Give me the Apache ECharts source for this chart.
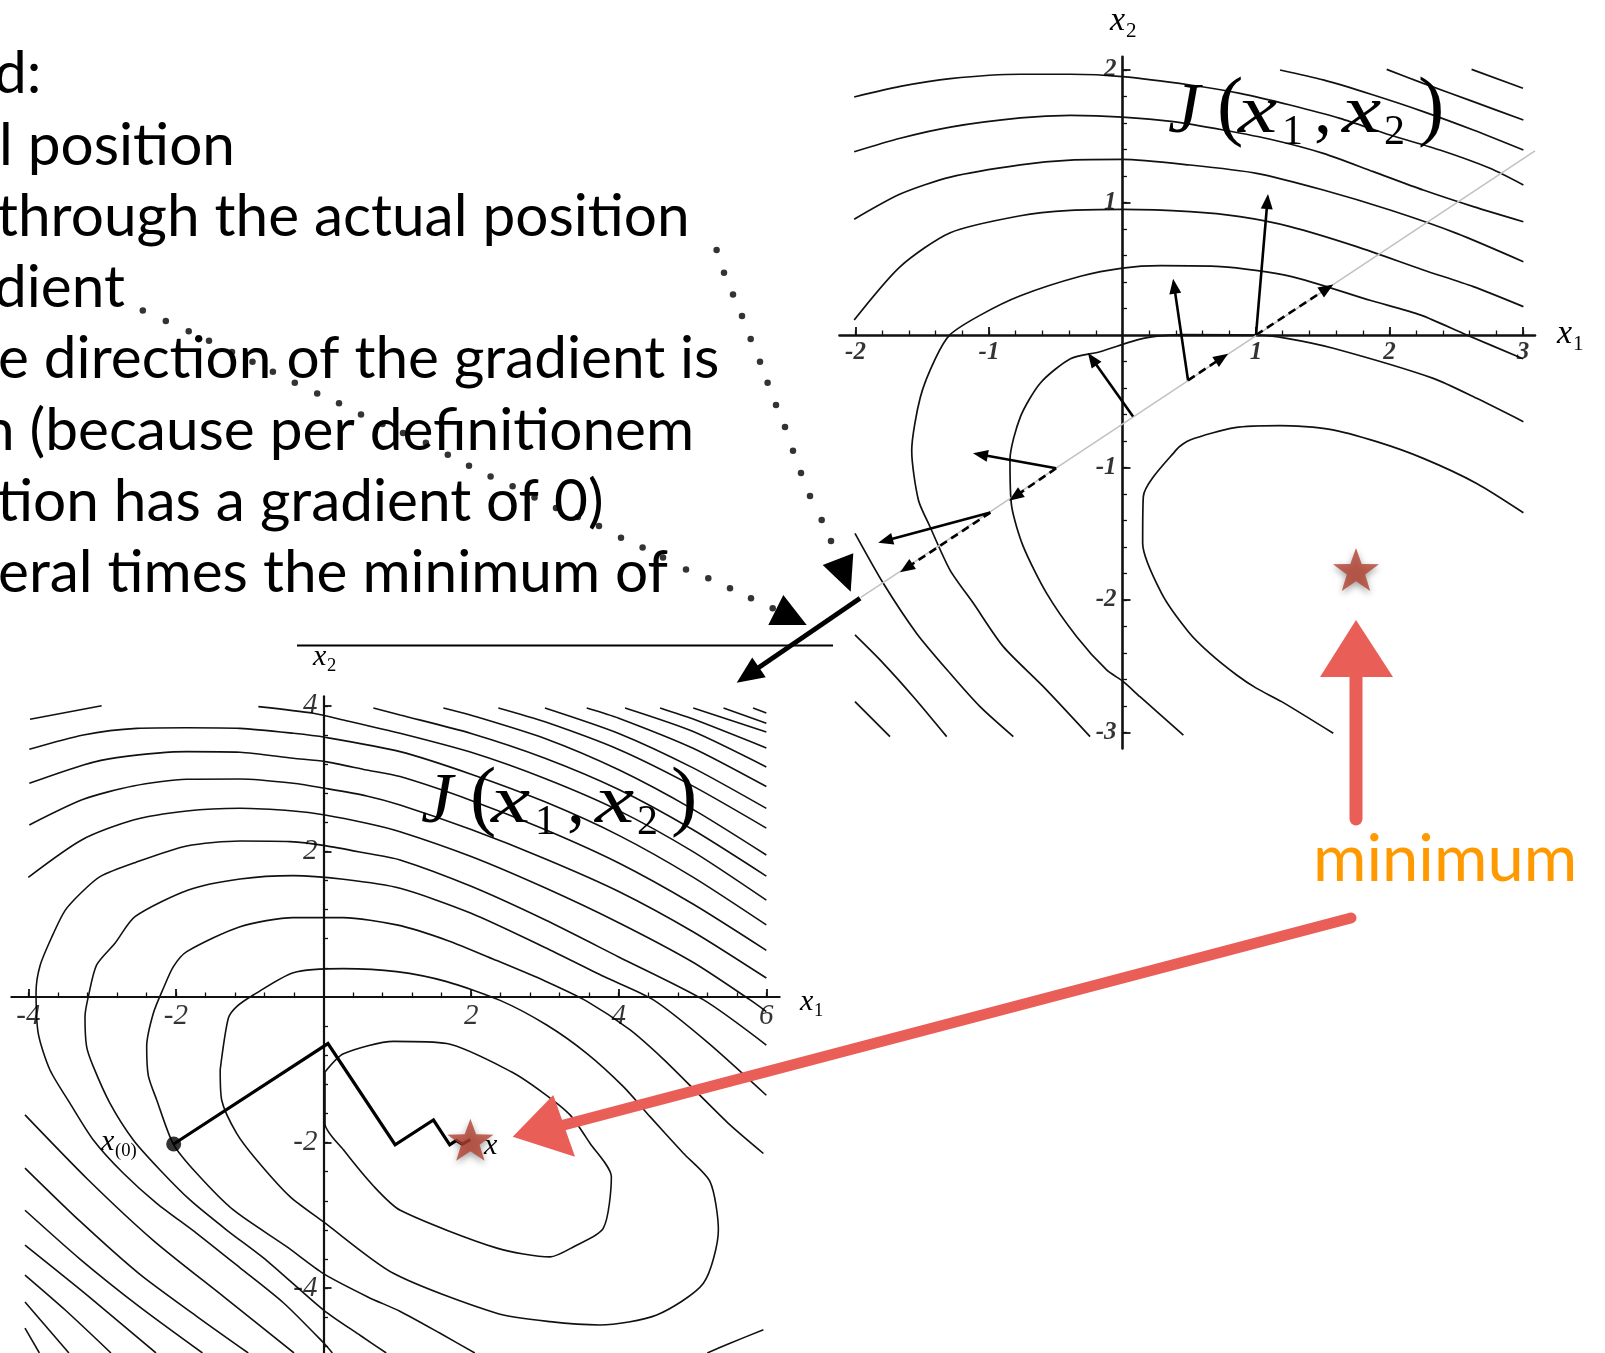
<!DOCTYPE html>
<html>
<head>
<meta charset="utf-8">
<script src="https://cdn.jsdelivr.net/npm/echarts@6/dist/echarts.min.js"></script>
<style>
html,body{margin:0;padding:0;background:#fff;}
#chart{width:1605px;height:1353px;}
</style>
</head>
<body>
<div id="chart"></div>
<script>
// ---------- upper contour plot: J(x1,x2), x1 in [-2,3], x2 in [-3,2] ----------
const topTicksX = [-2, -1, 1, 2, 3];
const topTicksY = [-3, -2, -1, 1, 2];

const topContours = [
  [[2.615,2.005],[3.0,1.862]],
  [[1.979,2.005],[2.253,1.899],[2.628,1.761],[3.003,1.623]],
  [[1.18,2.0],[1.504,1.925],[1.879,1.811],[2.253,1.686],[2.628,1.547],[3.003,1.396]],
  [[-2.01,1.796],[-1.665,1.876],[-1.29,1.935],[-0.765,1.968],[-0.39,1.968],[0,1.95],[0.506,1.887],[0.88,1.824],[1.255,1.736],[1.629,1.635],[2.004,1.509],[2.378,1.396],[2.753,1.258],[3.003,1.132]],
  [[-2.01,1.383],[-1.665,1.485],[-1.29,1.569],[-0.765,1.638],[-0.39,1.657],[0,1.645],[0.381,1.61],[0.755,1.547],[1.13,1.472],[1.504,1.371],[1.879,1.233],[2.253,1.094],[2.628,0.969],[3.003,0.855]],
  [[-2.01,0.874],[-1.665,1.064],[-1.29,1.192],[-0.765,1.284],[-0.39,1.32],[0,1.325],[0.506,1.283],[1.005,1.22],[1.504,1.094],[2.004,0.943],[2.503,0.767],[3.003,0.553]],
  [[-2.01,0.113],[-1.665,0.516],[-1.29,0.772],[-0.765,0.9],[-0.39,0.94],[0,0.948],[0.506,0.931],[0.88,0.893],[1.255,0.818],[1.754,0.667],[2.253,0.491],[2.628,0.365],[3.003,0.214]],
  [[3.0,-0.179],[2.57,0.004],[2.235,0.15],[1.86,0.26],[1.26,0.443],[0.735,0.516],[0.285,0.523],[0,0.505],[-0.315,0.443],[-0.765,0.296],[-1.065,0.15],[-1.29,0.004],[-1.402,-0.179],[-1.515,-0.472],[-1.579,-0.874],[-1.529,-1.245],[-1.442,-1.447],[-1.292,-1.774],[-1.117,-2.025],[-0.893,-2.352],[-0.593,-2.654],[-0.243,-3.031]],
  [[3.003,-0.654],[2.653,-0.478],[2.328,-0.327],[1.579,-0.1],[1.23,-0.025],[1.005,0],[0.456,0.003],[0.156,-0.025],[-0.169,-0.126],[-0.39,-0.179],[-0.615,-0.362],[-0.765,-0.618],[-0.843,-0.943],[-0.83,-1.296],[-0.743,-1.597],[-0.568,-1.95],[-0.343,-2.277],[-0.119,-2.528],[0.006,-2.616],[0.131,-2.73],[0.456,-3.019]],
  [[3.003,-1.341],[2.653,-1.12],[2.253,-0.931],[1.904,-0.805],[1.554,-0.712],[1.18,-0.684],[0.843,-0.699],[0.506,-0.792],[0.406,-0.863],[0.156,-1.22],[0.151,-1.572],[0.293,-1.95],[0.493,-2.239],[0.655,-2.403],[0.855,-2.566],[1.005,-2.667],[1.192,-2.767],[1.579,-3.006]],
  [[-2.004,-1.497],[-1.792,-1.874],[-1.542,-2.252],[-1.292,-2.553],[-1.067,-2.805],[-0.818,-3.031]],
  [[-2.004,-2.264],[-1.792,-2.478],[-1.567,-2.73],[-1.317,-3.031]],
  [[-2.004,-2.767],[-1.742,-3.031]]
];

// line search direction through the current point
const topSearchLine = [[-1.96,-1.98],[3.09,1.39]];
// gradient vectors (solid) and line-search steps (dashed): [from, to]
const topGradients = [
  [[1.0,0.0],[1.09,1.064]],
  [[0.491,-0.342],[0.379,0.424]],
  [[0.079,-0.616],[-0.259,-0.135]],
  [[-0.497,-1.006],[-1.12,-0.892]],
  [[-0.99,-1.34],[-1.83,-1.567]]
];
const topSteps = [
  [[1.0,0.0],[1.579,0.382]],
  [[0.491,-0.342],[0.791,-0.141]],
  [[-0.497,-1.006],[-0.85,-1.25]],
  [[-0.99,-1.34],[-1.666,-1.79]]
];
const topExitArrow = [[[-1.966,-1.987],[-2.89,-2.624]]];
const topMinimum = [[1.749,-1.769]];

// ---------- lower contour plot: x1 in [-4,6], x2 in [-5,4] ----------
const lowTicksX = [-4, -2, 2, 4, 6];
const lowTicksY = [-4, -2, 2, 4];

const lowContours = [
  [[0.02,-1.03],[0.27,-0.78],[0.95,-0.61],[1.67,-0.64],[2.55,-1.03],[2.98,-1.32],[3.34,-1.62],[3.61,-2.01],[3.9,-2.47],[3.79,-3.18],[3.39,-3.43],[3.07,-3.57],[2.35,-3.45],[1.04,-2.93],[0.68,-2.6],[0.27,-2.1],[0.02,-1.74],[0.02,-1.03]],
  [[-1.40,-1.0],[-1.38,-1.415],[-1.177,-1.873],[-0.906,-2.239],[-0.454,-2.743],[0.0,-3.09],[0.946,-3.796],[2.346,-4.345],[3.069,-4.46],[3.746,-4.505],[4.514,-4.368],[5.147,-3.933],[5.35,-3.201],[5.237,-2.537],[4.876,-2.147],[4.424,-1.644],[4.063,-1.232],[3.566,-0.774],[3.024,-0.385],[2.4,-0.05],[1.669,0.211],[0.991,0.348],[0.269,0.39],[-0.409,0.334],[-0.951,0.027],[-1.177,-0.133],[-1.29,-0.293],[-1.40,-1.0]],
  [[5.96,-2.15],[5.5,-1.75],[5.05,-1.3],[4.6,-0.85],[4.15,-0.45],[3.57,-0.06],[3.0,0.22],[2.347,0.5],[1.669,0.78],[0.991,0.99],[0.269,1.09],[-0.409,1.09],[-1.131,0.966],[-1.853,0.623],[-2.034,0.417],[-2.17,0.119],[-2.306,-0.224],[-2.396,-0.682],[-2.374,-1.08],[-2.26,-1.415],[-2.035,-2.02],[-1.719,-2.422],[-1.222,-2.926],[-0.499,-3.43],[0.0,-3.8],[0.6,-4.12],[1.04,-4.32],[1.58,-4.62],[2.05,-4.89]],
  [[5.96,-4.57],[5.5,-4.76],[5.2,-4.89]],
  [[6.0,-1.35],[5.2,-0.62],[4.47,-0.04],[3.8,0.28],[3.0,0.68],[2.0,1.15],[1.037,1.493],[0.269,1.616],[-0.409,1.667],[-1.131,1.621],[-1.831,1.47],[-2.555,1.103],[-2.826,0.737],[-3.074,0.44],[-3.187,0.005],[-3.232,-0.27],[-3.21,-0.682],[-3.119,-0.957],[-2.893,-1.461],[-2.577,-1.964],[-2.215,-2.376],[-1.809,-2.788],[-1.312,-3.201],[-0.77,-3.62],[0.0,-4.3],[0.5,-4.65],[0.85,-4.89]],
  [[6.0,-0.66],[5.15,-0.04],[4.0,0.55],[3.0,1.06],[2.0,1.52],[1.037,1.882],[0.585,1.973],[0.02,2.079],[-0.454,2.134],[-1.131,2.143],[-1.854,2.074],[-2.554,1.845],[-3.028,1.653],[-3.277,1.438],[-3.503,1.186],[-3.683,0.82],[-3.841,0.43],[-3.895,0.064],[-3.864,-0.508],[-3.706,-1.003],[-3.435,-1.461],[-3.119,-1.964],[-2.712,-2.422],[-2.26,-2.834],[-1.719,-3.246],[-1.131,-3.72],[-0.544,-4.2],[0.0,-4.75],[0.12,-4.89]],
  [[6.0,-0.2],[5.78,-0.04],[5.0,0.48],[4.0,1.02],[3.0,1.5],[2.0,1.93],[1.037,2.271],[0.585,2.386],[0.02,2.5],[-0.409,2.555],[-1.131,2.592],[-1.854,2.555],[-2.577,2.431],[-3.277,2.157],[-4.0,1.644]],
  [[-4.045,-1.62],[-3.2,-2.5],[-2.3,-3.35],[-1.35,-4.12],[-0.4,-4.89]],
  [[6.0,0.26],[5.0,0.9],[4.0,1.45],[3.0,1.9],[2.0,2.3],[1.037,2.637],[0.585,2.761],[0.02,2.866],[-0.409,2.935],[-1.131,2.994],[-1.854,2.99],[-2.577,2.898],[-3.254,2.715],[-3.986,2.363]],
  [[-4.045,-2.35],[-3.3,-3.08],[-2.5,-3.8],[-1.7,-4.4],[-1.02,-4.89]],
  [[6.0,0.64],[5.0,1.28],[4.0,1.84],[3.0,2.3],[2.0,2.7],[1.037,3.027],[0.585,3.118],[0.02,3.233],[-0.409,3.278],[-1.131,3.361],[-1.854,3.37],[-2.802,3.288],[-3.254,3.187],[-3.986,2.935]],
  [[-4.045,-2.93],[-3.3,-3.6],[-2.5,-4.25],[-1.64,-4.89]],
  [[6.0,0.99],[5.0,1.65],[4.0,2.22],[3.0,2.68],[2.0,3.06],[1.037,3.37],[0.02,3.567],[-0.409,3.622],[-1.131,3.69],[-1.854,3.699],[-2.531,3.69],[-3.254,3.599],[-3.986,3.402]],
  [[-4.045,-3.41],[-3.2,-4.1],[-2.27,-4.89]],
  [[-3.977,3.814],[-3.006,4.0]],
  [[-0.883,3.988],[-0.138,3.897],[0.269,3.805],[1.037,3.622],[2.0,3.36],[3.0,3.0],[4.0,2.56],[5.0,2.0],[6.0,1.33]],
  [[-4.045,-3.82],[-3.5,-4.3],[-2.88,-4.89]],
  [[0.675,3.97],[1.037,3.874],[2.0,3.62],[3.0,3.28],[4.0,2.85],[5.0,2.3],[6.0,1.66]],
  [[-4.045,-4.19],[-3.45,-4.89]],
  [[1.624,3.97],[2.0,3.87],[3.0,3.55],[4.0,3.12],[5.0,2.58],[6.0,1.95]],
  [[-4.045,-4.55],[-3.85,-4.89]],
  [[2.369,3.97],[3.0,3.78],[4.0,3.4],[5.0,2.9],[6.0,2.32]],
  [[3.0,3.97],[4.0,3.62],[5.0,3.15],[6.0,2.59]],
  [[3.566,3.97],[4.0,3.83],[5.0,3.42],[6.0,2.89]],
  [[4.085,3.97],[5.0,3.65],[6.0,3.16]],
  [[4.56,3.97],[5.0,3.82],[6.0,3.42]],
  [[5.01,3.97],[6.0,3.64]],
  [[5.42,3.97],[6.0,3.76]],
  [[5.82,3.97],[6.0,3.9]]
];

const descentPath = [[-2.03,-2.02],[0.06,-0.64],[0.97,-2.03],[1.49,-1.69],[1.71,-2.03],[1.80,-1.97],[1.88,-2.02],[1.99,-1.96]];
const startPoint = [[-2.03,-2.02]];
const lowMinimum = [[1.99,-1.96]];

// ---------- slide annotations (page coordinates, y downwards) ----------
const bodyLines = [
  'd:',
  'l position',
  'through the actual position',
  'dient',
  'e direction of the gradient is',
  'n (because per definitionem',
  'tion has a gradient of 0)',
  'eral times the minimum of'
];
const leftPointerDots = [[142.8,310.4],[165.8,321],[188.7,331.3],[209,340.8],[232,352],[252.5,361.8],[272.9,371.7],[294.8,382.7],[317.2,393.4],[339,403.3],[361,414.4],[382.5,423.9],[403,433],[425.9,442.8],[447.8,454.7],[469,465.8],[490.6,476.5],[512.6,486.3],[534.5,497.4],[556,508],[577.8,517],[599,526],[621,537.7],[642.6,547.6],[663,557.5],[686,569.4],[708.3,578.3],[730,588.3],[751,598.3],[772.7,608.3]];
const leftPointerHead = [[783.3,595],[768.3,625],[806.7,625]];
const rightPointerDots = [[716.6,249.9],[724,272.8],[733,294.6],[742,316],[750.7,339],[760,361.8],[767.6,382.7],[776,405],[785,427],[793,450.8],[801,473],[810,496],[821.7,520],[831,541]];
const rightPointerHead = [[850.7,591.7],[822.7,565],[853.3,553.3]];
const dividerLine = [[297,645.5],[833,645.5]];
const redUpShaft = [[1356,819],[1356,672]];
const redUpHead = [[1356,620],[1320,677],[1393,677]];
const redLongShaft = [[1351,918],[560,1126]];
const redLongHead = [[512.7,1136.7],[553.3,1095],[575,1156.7]];

// ---------------------------------------------------------------------------
const INK = '#111111';
const RED = '#E95F58';
const STAR = 'path://M0,-50 L11.8,-16.2 L47.6,-15.5 L19,6.2 L29.4,40.5 L0,20 L-29.4,40.5 L-19,6.2 L-47.6,-15.5 L-11.8,-16.2 Z';
const SERIF = 'Liberation Serif';

function steps(min, max, step) {
  const out = [];
  for (let k = Math.ceil(min / step - 1e-9); k * step <= max + 1e-9; k++) {
    const v = Math.round(k * step * 1000) / 1000;
    if (Math.abs(v) > 1e-9) out.push(v);
  }
  return out;
}

function axisPair(dim, grid, min, max, major, minorStep, otherIdx, lw) {
  const pos = dim === 'x' ? 'bottom' : 'left';
  const main = {
    gridIndex: grid, type: 'value', position: pos, min: min, max: max,
    axisLine: { show: true, onZero: true, onZeroAxisIndex: otherIdx, lineStyle: { color: INK, width: lw } },
    axisTick: { show: true, inside: true, length: 8, customValues: major, lineStyle: { color: INK, width: 1.8 } },
    axisLabel: { show: false },
    splitLine: { show: false }
  };
  const minor = {
    gridIndex: grid, type: 'value', position: pos, min: min, max: max,
    axisLine: { show: false, onZero: true, onZeroAxisIndex: otherIdx },
    axisTick: { show: true, inside: true, length: 4.5, customValues: steps(min, max, minorStep), lineStyle: { color: INK, width: 1.3 } },
    axisLabel: { show: false },
    splitLine: { show: false }
  };
  return [main, minor];
}

const [topX, topXm] = axisPair('x', 0, -2.12, 3.09, topTicksX, 0.2, 0, 2.6);
const [topY, topYm] = axisPair('y', 0, -3.12, 2.1, topTicksY, 0.2, 0, 2.6);
const [lowX, lowXm] = axisPair('x', 1, -4.23, 6.18, lowTicksX, 0.4, 2, 2.2);
const [lowY, lowYm] = axisPair('y', 1, -4.9, 4.13, lowTicksY, 0.4, 2, 2.2);

// tick numbers sit next to the zero-crossing axis lines
function tickLabelSeries(xi, yi, vals, dim, size, weight) {
  return {
    type: 'scatter', xAxisIndex: xi, yAxisIndex: yi, silent: true, z: 4,
    symbol: 'circle', symbolSize: 0.1, itemStyle: { color: 'rgba(0,0,0,0)' },
    data: vals.map(v => (dim === 'x' ? [v, 0] : [0, v])),
    label: {
      show: true, position: dim === 'x' ? 'bottom' : 'left', distance: dim === 'x' ? 5 : 6,
      formatter: p => String(dim === 'x' ? p.value[0] : p.value[1]),
      fontFamily: SERIF, fontStyle: 'italic', fontWeight: weight, fontSize: size, color: '#000'
    }
  };
}

function contourSeries(pts, xi, yi, w) {
  return {
    type: 'line', xAxisIndex: xi, yAxisIndex: yi, data: pts,
    symbol: 'none', smooth: 0.25, silent: true, z: 2,
    lineStyle: { color: INK, width: w }
  };
}

function arrowRender(width, headLen, headW, dash) {
  return function (params, api) {
    const a = api.coord([api.value(0), api.value(1)]);
    const b = api.coord([api.value(2), api.value(3)]);
    const dx = b[0] - a[0], dy = b[1] - a[1];
    const L = Math.hypot(dx, dy) || 1;
    const ux = dx / L, uy = dy / L;
    const bx = b[0] - ux * headLen, by = b[1] - uy * headLen;
    const hw = headW / 2;
    return {
      type: 'group',
      children: [
        { type: 'line', shape: { x1: a[0], y1: a[1], x2: bx + ux * 2, y2: by + uy * 2 },
          style: { stroke: '#000', lineWidth: width, lineDash: dash || null } },
        { type: 'polygon', shape: { points: [[b[0], b[1]], [bx - uy * hw, by + ux * hw], [bx + uy * hw, by - ux * hw]] },
          style: { fill: '#000' } }
      ]
    };
  };
}

function arrowSeries(list, xi, yi, render, z) {
  return {
    type: 'custom', xAxisIndex: xi, yAxisIndex: yi, clip: false, silent: true, z: z,
    data: list.map(s => [s[0][0], s[0][1], s[1][0], s[1][1]]),
    encode: { x: [0, 2], y: [1, 3] },
    renderItem: render
  };
}

function triangleSeries(tri, color, z) {
  return {
    type: 'custom', xAxisIndex: 4, yAxisIndex: 4, clip: false, silent: true, z: z,
    data: [[tri[0][0], tri[0][1], tri[1][0], tri[1][1], tri[2][0], tri[2][1]]],
    encode: { x: [0, 2, 4], y: [1, 3, 5] },
    renderItem: function (params, api) {
      const pts = [0, 1, 2].map(i => api.coord([api.value(2 * i), api.value(2 * i + 1)]));
      return { type: 'polygon', shape: { points: pts }, style: { fill: color } };
    }
  };
}

function starSeries(pt, xi, yi, size) {
  return {
    type: 'scatter', xAxisIndex: xi, yAxisIndex: yi, data: pt, silent: true, z: 8,
    symbol: STAR, symbolSize: size,
    itemStyle: { color: '#B3412F', shadowBlur: 7, shadowColor: 'rgba(0,0,0,0.45)', shadowOffsetY: 3 }
  };
}

const series = [];
topContours.forEach(c => series.push(contourSeries(c, 0, 0, 1.7)));
series.push({
  type: 'line', xAxisIndex: 0, yAxisIndex: 0, data: topSearchLine, symbol: 'none', silent: true, z: 3,
  lineStyle: { color: '#c2c2c2', width: 1.6 }
});
series.push(tickLabelSeries(0, 0, topTicksX, 'x', 25, 'bold'));
series.push(tickLabelSeries(0, 0, topTicksY, 'y', 25, 'bold'));
series.push(arrowSeries(topGradients, 0, 0, arrowRender(2.6, 15, 12), 6));
series.push(arrowSeries(topSteps, 0, 0, arrowRender(2.6, 15, 12, [8, 5]), 6));
series.push(arrowSeries(topExitArrow, 0, 0, arrowRender(4.8, 27, 24), 6));
series.push(starSeries(topMinimum, 0, 0, [46, 43]));

lowContours.forEach(c => series.push(contourSeries(c, 2, 2, 1.6)));
series.push(tickLabelSeries(2, 2, lowTicksX, 'x', 29, 'normal'));
series.push(tickLabelSeries(2, 2, lowTicksY, 'y', 29, 'normal'));
series.push({
  type: 'line', xAxisIndex: 2, yAxisIndex: 2, data: descentPath, symbol: 'none', silent: true, z: 6,
  lineStyle: { color: '#000', width: 3.2, join: 'miter' }
});
series.push({
  type: 'scatter', xAxisIndex: 2, yAxisIndex: 2, data: startPoint, symbol: 'circle', symbolSize: 15,
  silent: true, z: 7, itemStyle: { color: '#000' }
});
series.push(starSeries(lowMinimum, 2, 2, [46, 42]));

// page overlay: pointers, divider and red marker arrows
series.push({
  type: 'line', xAxisIndex: 4, yAxisIndex: 4, data: dividerLine, symbol: 'none', silent: true, z: 9,
  lineStyle: { color: '#000', width: 2 }
});
[leftPointerDots, rightPointerDots].forEach(d => series.push({
  type: 'scatter', xAxisIndex: 4, yAxisIndex: 4, data: d, symbol: 'circle', symbolSize: 6.5,
  silent: true, z: 9, itemStyle: { color: '#000' }
}));
series.push(triangleSeries(leftPointerHead, '#000', 9));
series.push(triangleSeries(rightPointerHead, '#000', 9));
[[redUpShaft, 13], [redLongShaft, 11]].forEach(([s, w]) => series.push({
  type: 'line', xAxisIndex: 4, yAxisIndex: 4, data: s, symbol: 'none', silent: true, z: 10,
  lineStyle: { color: RED, width: w, cap: 'round' }
}));
series.push(triangleSeries(redUpHead, RED, 10));
series.push(triangleSeries(redLongHead, RED, 10));

// ---------- text ----------
const MID = { 'Lato': 0.387, [SERIF]: 0.338 };
function txt(str, x, baseline, size, family, extra) {
  const e = extra || {};
  return {
    type: 'text', x: x, y: baseline - MID[family] * size, z: 100, silent: true,
    scaleX: e.scaleX || 1,
    style: {
      text: str, fontSize: size, fontFamily: family, fontStyle: e.italic ? 'italic' : 'normal',
      fontWeight: 'normal', fill: e.color || '#000', align: 'left', verticalAlign: 'middle'
    }
  };
}

const graphics = [];
const lineStartX = [-6, -1, -3, -6, -2, -18, -3, -2];
bodyLines.forEach((s, i) => graphics.push(txt(s, lineStartX[i], 97 + 71.3 * i, 58.5, 'Lato')));
graphics.push(txt('minimum', 1313, 885, 65, 'Lato', { color: '#FF9900' }));

function jLabel(left, base) {
  const parts = [
    ['J', 0, 0, 72, true, 1],
    ['(', 49, 0, 79, false, 1],
    ['x', 70, 0, 68, true, 1.3],
    ['1', 114, 10, 42, false, 1],
    [',', 146, 0, 72, false, 1],
    ['x', 174, 0, 68, true, 1.3],
    ['2', 216, 10, 42, false, 1],
    [')', 250, 0, 79, false, 1]
  ];
  parts.forEach(p => graphics.push(txt(p[0], left + p[1], base + p[2], p[3], SERIF, { italic: p[4], scaleX: p[5] })));
}
jLabel(1168, 137);
jLabel(421, 827);

function varLabel(left, base, size, sub, subGap) {
  graphics.push(txt('x', left, base, size, SERIF, { italic: true }));
  if (sub) graphics.push(txt(sub, left + subGap, base + size * 0.17, size * 0.62, SERIF));
}
varLabel(1110, 33, 34, '2', 16);
varLabel(1557, 346, 34, '1', 16);
varLabel(313, 667, 30, '2', 14);
varLabel(800, 1012, 30, '1', 14);
varLabel(101, 1152, 30, '(0)', 14);
varLabel(484, 1156, 30, null, 0);

const chart = echarts.init(document.getElementById('chart'), null, { renderer: 'canvas' });
chart.setOption({
  animation: false,
  backgroundColor: '#ffffff',
  grid: [
    { left: 839.5, top: 56.75, width: 695.5, height: 691.65, containLabel: false, outerBoundsMode: 'none' },
    { left: 11.33, top: 696.3, width: 768.3, height: 657.4, containLabel: false, outerBoundsMode: 'none' },
    { left: 0, top: 0, width: 1605, height: 1353, containLabel: false, outerBoundsMode: 'none' }
  ],
  xAxis: [topX, topXm, lowX, lowXm, { gridIndex: 2, type: 'value', min: 0, max: 1605, show: false }],
  yAxis: [topY, topYm, lowY, lowYm, { gridIndex: 2, type: 'value', min: 0, max: 1353, inverse: true, show: false }],
  series: series,
  graphic: graphics
});
</script>
</body>
</html>
